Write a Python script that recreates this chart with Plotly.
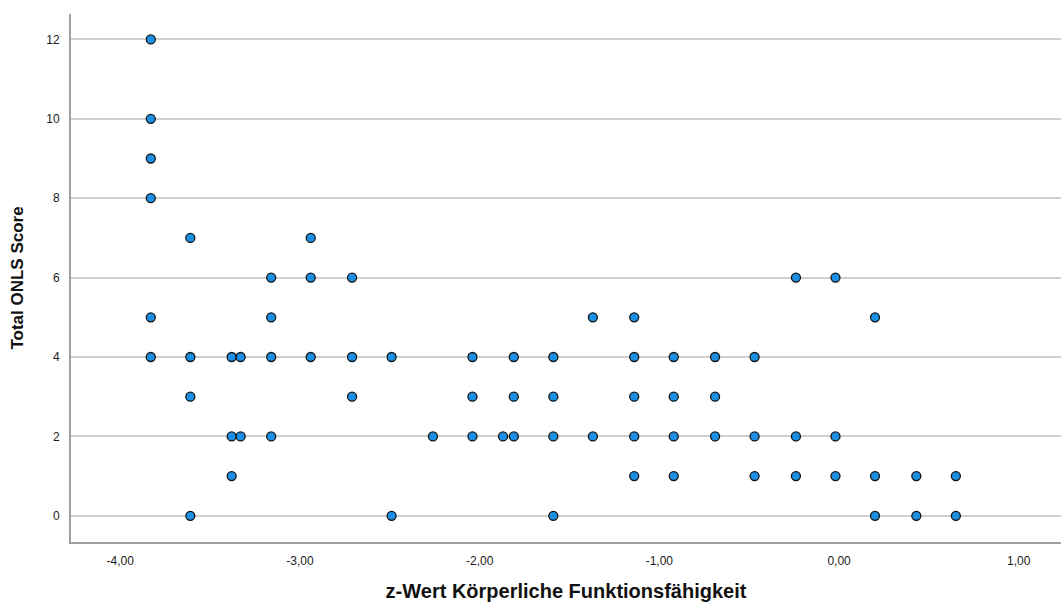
import plotly.graph_objects as go

# z-scores of physical functioning and the matching total ONLS score, grouped by z column
z_columns = [-3.83, -3.61, -3.38, -3.33, -3.16, -2.94, -2.71, -2.49, -2.26, -2.04, -1.87,
             -1.81, -1.59, -1.37, -1.14, -0.92, -0.69, -0.47, -0.24, -0.02, 0.20, 0.43, 0.65]
onls_by_column = [
    [12, 10, 9, 8, 5, 4],
    [7, 4, 3, 0],
    [4, 2, 1],
    [4, 2],
    [6, 5, 4, 2],
    [7, 6, 4],
    [6, 4, 3],
    [4, 0],
    [2],
    [4, 3, 2],
    [2],
    [4, 3, 2],
    [4, 3, 2, 0],
    [5, 2],
    [5, 4, 3, 2, 1],
    [4, 3, 2, 1],
    [4, 3, 2],
    [4, 2, 1],
    [6, 2, 1],
    [6, 2, 1],
    [5, 1, 0],
    [1, 0],
    [1, 0],
]

x_ticks = [-4, -3, -2, -1, 0, 1]
x_tick_labels = ["-4,00", "-3,00", "-2,00", "-1,00", "0,00", "1,00"]
y_ticks = [0, 2, 4, 6, 8, 10, 12]

xs, ys = [], []
for z, scores in zip(z_columns, onls_by_column):
    for s in scores:
        xs.append(z)
        ys.append(s)

fig = go.Figure(go.Scatter(
    x=xs, y=ys, mode="markers",
    marker=dict(size=9, color="#1a8fe3", line=dict(color="#141414", width=1.3)),
    hoverinfo="x+y",
))

font = "Liberation Sans, Arial, sans-serif"
fig.update_layout(
    width=1061, height=604,
    margin=dict(l=71, r=0, t=14, b=62, autoexpand=False),
    paper_bgcolor="white", plot_bgcolor="white",
    showlegend=False,
    font=dict(family=font, size=12, color="#222222"),
    xaxis=dict(
        range=[-4.274, 1.235],
        tickvals=x_ticks, ticktext=x_tick_labels,
        showgrid=False, zeroline=False,
        showline=True, linecolor="#a0a0a0", linewidth=2,
        ticks="", ticklabelstandoff=7,
        tickfont=dict(size=12, color="#1a1a1a"),
        title=dict(text="z-Wert Körperliche Funktionsfähigkeit",
                   font=dict(size=20, color="#111111", family=font, weight="bold"),
                   standoff=17),
    ),
    yaxis=dict(
        range=[-0.66, 12.64],
        tickvals=y_ticks,
        showgrid=True, gridcolor="#cfcfcf", gridwidth=1.5,
        zeroline=False,
        showline=True, linecolor="#a0a0a0", linewidth=2,
        ticks="", ticklabelstandoff=7,
        tickfont=dict(size=12, color="#1a1a1a"),
        title=dict(text="Total ONLS Score",
                   font=dict(size=17, color="#111111", family=font, weight="bold"),
                   standoff=18),
    ),
)

fig.write_html("out.html")
